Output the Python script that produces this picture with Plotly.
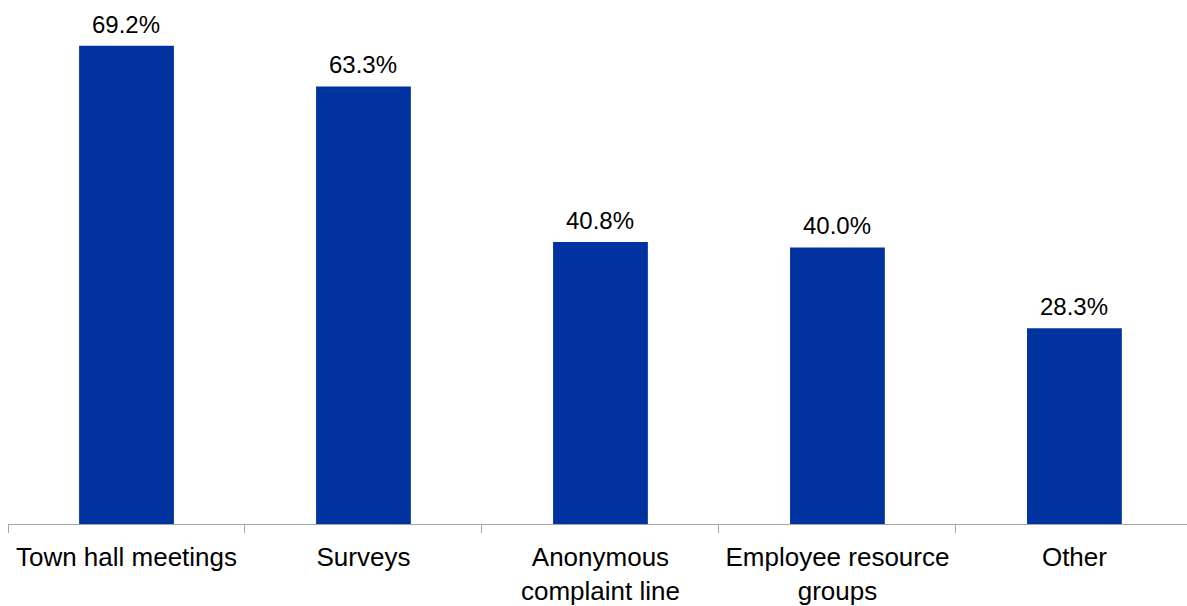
import plotly.graph_objects as go

categories = ["Town hall meetings", "Surveys", "Anonymous<br>complaint line",
              "Employee resource<br>groups", "Other"]
values = [69.2, 63.3, 40.8, 40.0, 28.3]
labels = ["69.2%", "63.3%", "40.8%", "40.0%", "28.3%"]

FONT = "Liberation Sans, Arial, sans-serif"
BAR = "#0033a0"

fig = go.Figure()
fig.add_trace(go.Bar(
    x=categories, y=values, marker=dict(color=BAR, line=dict(width=0)),
    width=0.4, hoverinfo="skip",
))

for c, v, t in zip(categories, values, labels):
    fig.add_annotation(x=c, y=v, text=t, showarrow=False, yanchor="bottom",
                       yshift=6, font=dict(family=FONT, size=24, color="#000"))

fig.update_layout(
    width=1187, height=606,
    margin=dict(l=8, r=0, t=0, b=80),
    plot_bgcolor="white", paper_bgcolor="white",
    showlegend=False,
    xaxis=dict(
        range=[-0.5, 4.475], showline=True, linecolor="#a6a6a6", linewidth=1,
        ticks="outside", ticklen=8, tickcolor="#a6a6a6", tickson="boundaries",
        ticklabelstandoff=10,
        tickfont=dict(family=FONT, size=26, color="#000"), showgrid=False,
        fixedrange=True,
    ),
    yaxis=dict(range=[0, 75.8], visible=False, showgrid=False, fixedrange=True),
)

fig.write_html("out.html")
